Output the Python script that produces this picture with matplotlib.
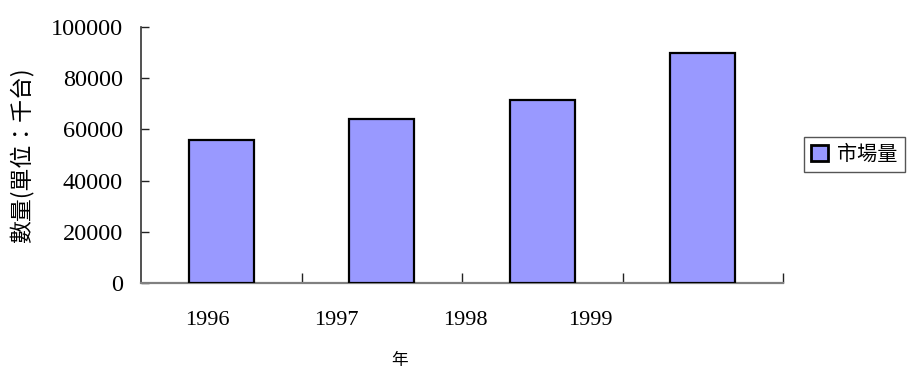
import matplotlib
matplotlib.use("Agg")
import matplotlib.pyplot as plt
from matplotlib.patches import Patch

# Data
years = ["1996", "1997", "1998", "1999"]
market = [56000, 64000, 71500, 90000]
y_ticks = [0, 20000, 40000, 60000, 80000, 100000]
series_name = "市場量"
y_title = "數量(單位：千台)"
x_title = "年"

# Label offsets (in category units) relative to each category centre
label_shift = [-0.085, -0.285, -0.48, -0.70]

fig = plt.figure(figsize=(9.12, 3.69), dpi=100)
ax = fig.add_axes([141 / 912, 86 / 369, 642 / 912, 256 / 369])

x = list(range(len(years)))
ax.bar(x, market, width=0.405, color="#9999FF", edgecolor="black",
       linewidth=1.6, zorder=3)

ax.set_xlim(-0.5, len(years) - 0.5)
ax.set_ylim(0, 100000)

# Spines
for s in ("top", "right"):
    ax.spines[s].set_visible(False)
ax.spines["left"].set_color("#333333")
ax.spines["left"].set_linewidth(1.2)
ax.spines["bottom"].set_color("#808080")
ax.spines["bottom"].set_linewidth(1.6)

serif = ["Liberation Serif", "DejaVu Serif"]
cjk = ["Noto Sans CJK TC", "DejaVu Sans"]

# Y axis
ax.set_yticks(y_ticks)
ax.set_yticklabels([str(v) for v in y_ticks], fontfamily=serif, fontsize=17.5)
ax.tick_params(axis="y", direction="in", length=6, width=1.0,
               color="#222222", pad=13)

# X axis: boundary ticks as minor, labels as major (tickless)
ax.set_xticks([i + 0.5 for i in x[:-1]] + [len(years) - 0.5], minor=True)
ax.tick_params(axis="x", which="minor", direction="in", length=7,
               width=1.0, color="#222222")
ax.set_xticks([i + d for i, d in zip(x, label_shift)])
ax.set_xticklabels(years, fontfamily=serif, fontsize=16)
ax.tick_params(axis="x", which="major", length=0, pad=20)

# Axis titles
fig.text(22 / 912, 1 - 155 / 369, y_title, rotation=90, ha="center",
         va="center", fontfamily=cjk, fontsize=16.5)
fig.text(400 / 912, 1 - 360 / 369, x_title, ha="center", va="center",
         fontfamily=cjk, fontsize=12)

# Legend
handle = Patch(facecolor="#9999FF", edgecolor="black", linewidth=2.0)
leg = fig.legend([handle], [series_name], loc="upper left",
                 bbox_to_anchor=(804 / 912, 1 - 137 / 369),
                 borderaxespad=0, fancybox=False, framealpha=1,
                 edgecolor="#555555", prop={"family": cjk, "size": 14.5},
                 handlelength=0.85, handleheight=0.85, handletextpad=0.45,
                 borderpad=0.35)
leg.get_frame().set_linewidth(1.0)

fig.savefig("out.png", dpi=100)
